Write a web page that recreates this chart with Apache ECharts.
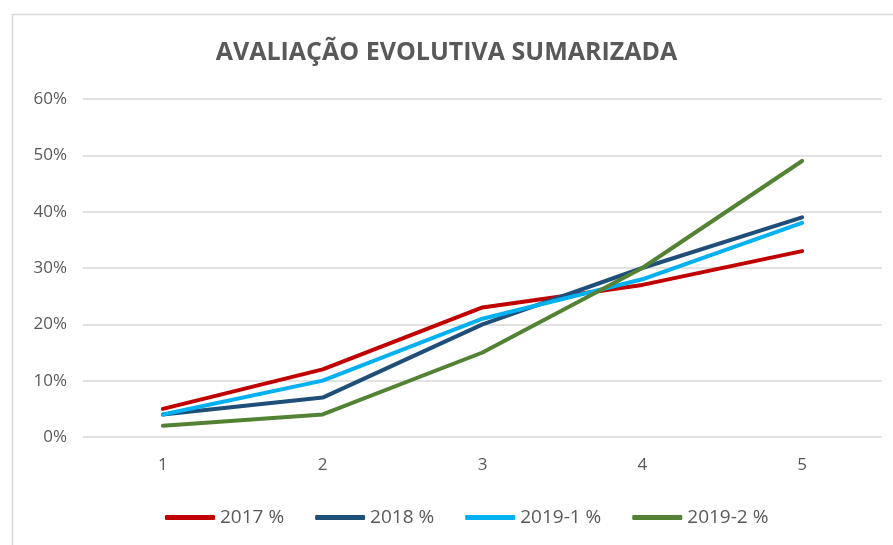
<!DOCTYPE html>
<html>
<head>
<meta charset="utf-8">
<script src="https://cdn.jsdelivr.net/npm/echarts@6/dist/echarts.min.js"></script>
<style>html,body{margin:0;padding:0;background:#fff}#c{width:893px;height:545px}</style>
</head>
<body>
<div id="c"></div>
<script>
const categories = ['1', '2', '3', '4', '5'];
const s2017 = [5, 12, 23, 27, 33];
const s2018 = [4, 7, 20, 30, 39];
const s2019_1 = [4, 10, 21, 28, 38];
const s2019_2 = [2, 4, 15, 30, 49];
const seriesNames = ['2017 %', '2018 %', '2019-1 %', '2019-2 %'];
const colors = ['#C00000', '#1F4E79', '#00B0F0', '#548235'];

const chart = echarts.init(document.getElementById('c'));
const font = 'Open Sans';
const mk = (name, data, color) => ({
  name, type: 'line', data, symbol: 'none', smooth: false,
  lineStyle: { width: 4, color, cap: 'round', join: 'round' },
  itemStyle: { color }
});
chart.setOption({
  animation: false,
  color: colors,
  graphic: [{
    type: 'rect', left: 10, top: 12, shape: { width: 900, height: 560 },
    style: { fill: 'none', stroke: '#d9d9d9', lineWidth: 1.5 }, silent: true
  }],
  title: {
    text: 'AVALIAÇÃO EVOLUTIVA SUMARIZADA', left: 'center', top: 35,
    textStyle: { fontFamily: font, fontSize: 25, fontWeight: 'bold', color: '#595959' }
  },
  grid: { left: 83, right: 11, top: 99, bottom: 108 },
  legend: {
    top: 503, left: 160, itemWidth: 50, itemHeight: 5, itemGap: 31,
    icon: 'roundRect',
    data: seriesNames,
    textStyle: { fontFamily: font, fontSize: 19, color: '#595959' }
  },
  xAxis: {
    type: 'category', data: categories, boundaryGap: true,
    axisLine: { show: false }, axisTick: { show: false },
    axisLabel: { fontFamily: font, fontSize: 17, color: '#595959', margin: 20 }
  },
  yAxis: {
    type: 'value', min: 0, max: 60, interval: 10,
    axisLine: { show: false }, axisTick: { show: false },
    axisLabel: { formatter: '{value}%', fontFamily: font, fontSize: 17, color: '#595959', margin: 16 },
    splitLine: { lineStyle: { color: '#d9d9d9', width: 1.5 } }
  },
  series: [
    mk(seriesNames[0], s2017, colors[0]),
    mk(seriesNames[1], s2018, colors[1]),
    mk(seriesNames[2], s2019_1, colors[2]),
    mk(seriesNames[3], s2019_2, colors[3])
  ]
});
</script>
</body>
</html>
